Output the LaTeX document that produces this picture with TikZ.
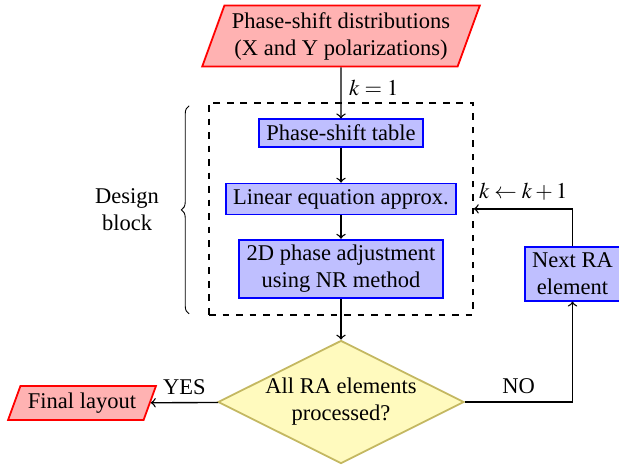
\documentclass[tikz,border=0pt]{standalone}
\usepackage{mathptmx}
\usepackage[no-math]{fontspec}
\setmainfont{Liberation Serif}
\usetikzlibrary{shapes, positioning, fit, calc, decorations.pathreplacing}

\definecolor{dmdline}{RGB}{196,184,98}
\definecolor{dmdfill}{RGB}{255,250,190}

\tikzset{
  iobox/.style={trapezium, trapezium left angle=70, trapezium right angle=110,
    draw=red, fill=red!30, thick, align=center, inner ysep=3pt},
  procbox/.style={rectangle, draw=blue, fill=blue!25, thick, align=center, inner ysep=2.5pt},
  decbox/.style={diamond, aspect=2, draw=dmdline, fill=dmdfill, thick, align=center, inner sep=0pt},
  line/.style={->, semithick}
}

\begin{document}
\begin{tikzpicture}[x=0.4444pt, y=-0.4444pt]
\useasboundingbox (0,0) rectangle (619,466);

\node [iobox] (inp) at (341,36) {Phase-shift distributions\\(X and Y polarizations)};
\node [procbox] (tbl) at (341,133) {Phase-shift table};
\node [procbox] (lin) at (341,199) {Linear equation approx.};
\node [procbox] (nr) at (341,269) {2D phase adjustment\\using NR method};
\node [decbox] (chk) at (341,402) {All RA elements\\processed?};
\node [iobox] (fin) at (82,403) {Final layout};
\node [procbox] (nxt) at (572.5,274) {Next RA\\element};

% design block
\node [draw, dashed, thick, fit=(tbl)(lin)(nr), inner sep=7pt] (blk) {};
\draw [decorate, decoration={brace, amplitude=3.5pt}]
  ($(blk.south west)+(-19,-2)$) -- ($(blk.north west)+(-19,4)$);
\node [align=center] (dsg) at (127,210) {Design\\block};

\draw [line] (inp) -- node [right, pos=0.4] {$k = 1$} (tbl);
\draw [line] (tbl) -- (lin);
\draw [line] (lin) -- (nr);
\draw [line] (nr) -- (chk);
\draw [line] (chk) -- node [above] {YES} (fin);
\draw [line] (chk) -| node [pos=0.25, above] {NO} (nxt);
\draw [line] (nxt) |- node [pos=0.75, above] {$k \leftarrow k + 1$} (blk.east);
\end{tikzpicture}
\end{document}
